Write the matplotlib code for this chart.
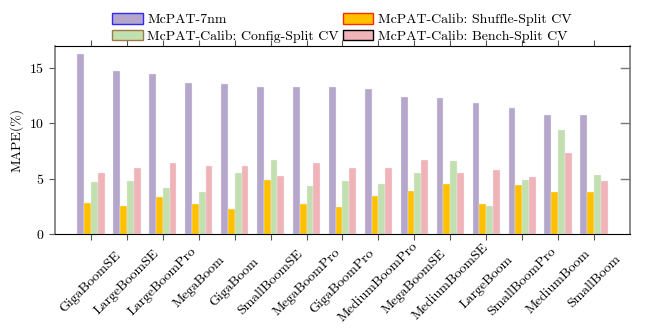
import numpy as np
import matplotlib.pyplot as plt
from matplotlib.patches import Patch

plt.rcParams['font.family'] = ['cmr10', 'DejaVu Serif']
plt.rcParams['mathtext.fontset'] = 'cm'
plt.rcParams['axes.formatter.use_mathtext'] = True

cores = ['GigaBoomSE', 'LargeBoomSE', 'LargeBoomPro', 'MegaBoom', 'GigaBoom',
         'SmallBoomSE', 'MegaBoomPro', 'GigaBoomPro', 'MediumBoomPro', 'MegaBoomSE',
         'MediumBoomSE', 'LargeBoom', 'SmallBoomPro', 'MediumBoom', 'SmallBoom']
mcpat_7nm = [16.26, 14.75, 14.48, 13.67, 13.52, 13.28, 13.25, 13.25, 13.13, 12.37,
             12.31, 11.86, 11.41, 10.75, 10.75]
shuffle_cv = [2.80, 2.53, 3.37, 2.71, 2.26, 4.91, 2.74, 2.50, 3.43, 3.91,
              4.52, 2.71, 4.43, 3.82, 3.79]
config_cv = [4.72, 4.81, 4.18, 3.82, 5.51, 6.71, 4.36, 4.81, 4.57, 5.51,
             6.65, 2.53, 4.93, 9.42, 5.33]
bench_cv = [5.51, 5.99, 6.38, 6.14, 6.17, 5.27, 6.44, 5.99, 5.96, 6.68,
            5.51, 5.75, 5.18, 7.32, 4.81]

series = [mcpat_7nm, shuffle_cv, config_cv, bench_cv]
names = ['McPAT-7nm', 'McPAT-Calib: Shuffle-Split CV',
         'McPAT-Calib: Config-Split CV', 'McPAT-Calib: Bench-Split CV']
fills = ['#b5a7cb', '#ffc000', '#c2dfb0', '#f0b4b8']
edges = ['#2b2bff', '#ff2b00', '#9c7a4a', '#000000']

fig = plt.figure(figsize=(6.45, 3.29), dpi=100)
ax = fig.add_axes([0.0853, 0.288, 0.8914, 0.573])

x = np.arange(len(cores))
w = 0.19
for i, vals in enumerate(series):
    ax.bar(x + (i - 1.5) * w, vals, w, color=fills[i], edgecolor='#f4f0f4', linewidth=0.25)

ax.set_xlim(-1, len(cores))
ax.set_ylim(0, 17)
ax.set_yticks([0, 5, 10, 15])
ax.set_xticks(x)
ax.set_xticklabels([])
# labels rotated about their centre, like pgfplots
for xi, name in zip(x, cores):
    ax.text(xi, -0.253, name, transform=ax.get_xaxis_transform(), rotation=45,
            ha='center', va='center', fontsize=10)
ax.set_ylabel('MAPE(%)', fontsize=10)

ax.tick_params(axis='x', direction='out', top=True, length=4, color='#555555')
ax.tick_params(axis='y', direction='out', right=False, length=4, color='#555555', labelsize=10)
for yv in [5, 10, 15]:
    ax.plot([1, 0.985], [yv, yv], transform=ax.get_yaxis_transform(), color='#777777', lw=1)
ax.spines['left'].set_color('#777777')
ax.spines['right'].set_color('#777777')
ax.spines['left'].set_linewidth(1.2)
ax.spines['right'].set_linewidth(1.2)

handles = [Patch(facecolor=fills[i], edgecolor=edges[i], linewidth=1) for i in range(4)]
order = [0, 2, 1, 3]
fig.legend([handles[i] for i in order], [names[i] for i in order],
           loc='center', bbox_to_anchor=(0.53, 0.915), ncol=2, frameon=False,
           fontsize=10, handlelength=2.2, handleheight=0.8, columnspacing=0.3,
           handletextpad=0.3, labelspacing=0.25)

fig.savefig('out.png', dpi=100)
